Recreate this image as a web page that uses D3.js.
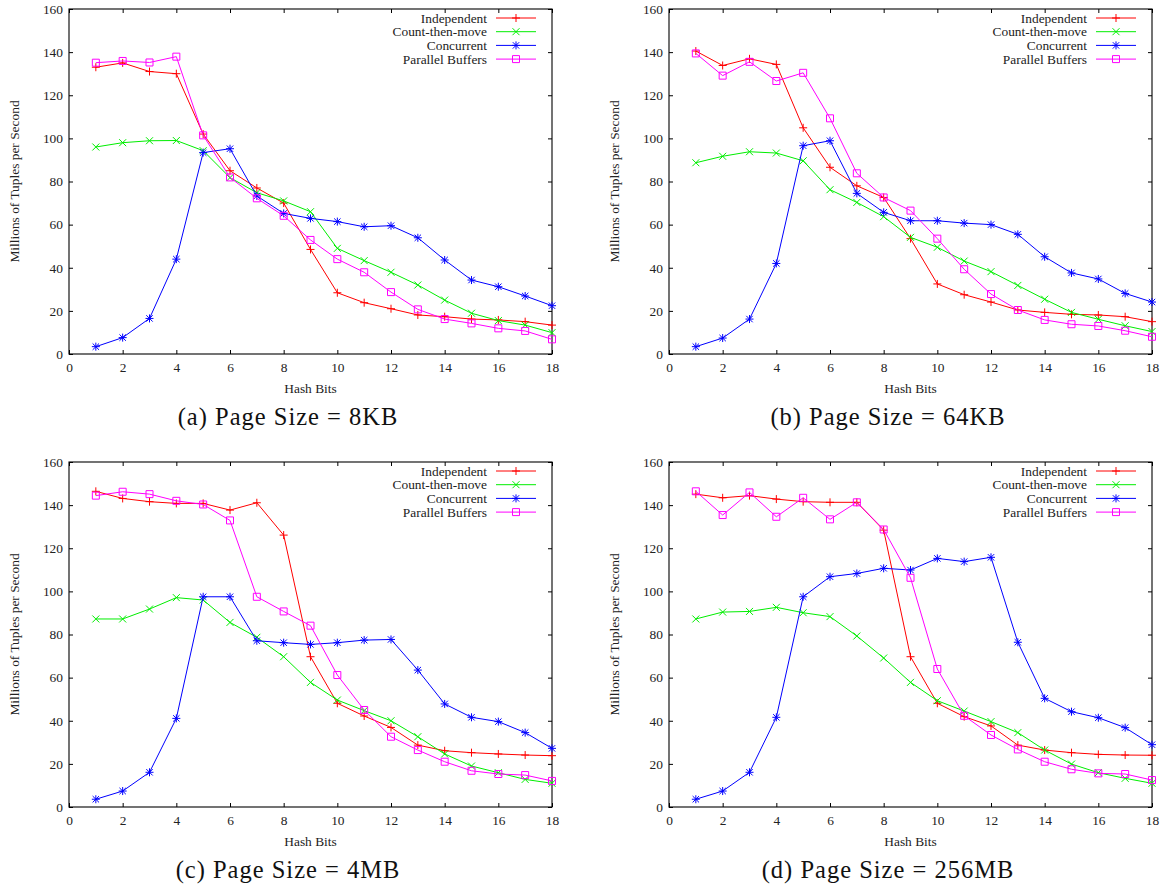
<!DOCTYPE html>
<html>
<head>
<meta charset="utf-8">
<script src="https://d3js.org/d3.v7.min.js"></script>
<style>
  body { margin: 0; background: #fff; }
  svg { display: block; }
  .axis text { font-family: "Liberation Serif", "Times New Roman", serif; font-size: 13.4px; fill: #222; }
  .lab { font-family: "Liberation Serif", "Times New Roman", serif; font-size: 13.4px; fill: #222; }
  .caption { font-family: "Liberation Serif", "Times New Roman", serif; font-size: 24.5px; letter-spacing: 1px; fill: #111; }
</style>
</head>
<body>
<script>
// x values (hash bits) and tick labels
var hashBits = [1, 2, 3, 4, 5, 6, 7, 8, 9, 10, 11, 12, 13, 14, 15, 16, 17, 18];
var xTicks = [0, 2, 4, 6, 8, 10, 12, 14, 16, 18];
var yTicks = [0, 20, 40, 60, 80, 100, 120, 140, 160];

var seriesNames = ['Independent', 'Count-then-move', 'Concurrent', 'Parallel Buffers'];
var seriesColors = ['#ff0000', '#00ee00', '#0000ff', '#ff00ff'];
var captions = ['(a) Page Size = 8KB', '(b) Page Size = 64KB', '(c) Page Size = 4MB', '(d) Page Size = 256MB'];

// (a) 8KB
var independent8KB = [133, 135, 131, 130, 102, 85, 77, 70, 48.5, 28.4, 23.8, 21, 18.1, 17.3, 16.2, 15.8, 15, 13.4];
var countMove8KB   = [96, 98, 98.9, 99, 94.3, 81.8, 74.8, 71, 66, 49, 43.3, 37.9, 32, 25, 18.9, 15.5, 13.4, 9.9];
var concurrent8KB  = [3.4, 7.6, 16.5, 44, 93.4, 95.2, 73.3, 65.2, 62.9, 61.4, 59, 59.5, 53.9, 43.6, 34.3, 31.2, 26.9, 22.4];
var parallel8KB    = [135.1, 135.9, 135.2, 137.9, 101.4, 81.9, 72.2, 64.1, 52.9, 44, 37.9, 28.7, 20.7, 16.2, 14.2, 11.9, 10.7, 6.8];

// (b) 64KB
var independent64KB = [140.5, 133.8, 136.9, 134.3, 104.9, 86.6, 78, 72.6, 53.5, 32.5, 27.5, 24.1, 20.4, 19.3, 18.4, 18.1, 17.3, 15];
var countMove64KB   = [88.7, 91.7, 93.8, 93.2, 89.6, 76.2, 70.3, 63.7, 54.1, 49.5, 43.1, 38.2, 31.8, 25.4, 19.3, 16.1, 13.1, 10.4];
var concurrent64KB  = [3.4, 7.4, 16.2, 42, 96.6, 98.9, 74.5, 65.7, 61.8, 61.8, 60.7, 60, 55.5, 45.1, 37.6, 34.8, 28.1, 24.1];
var parallel64KB    = [139.4, 129.1, 135.5, 126.6, 130.4, 109.3, 83.8, 72.6, 66.5, 53.5, 39.3, 27.8, 20.4, 15.8, 13.8, 13, 10.8, 8];

// (c) 4MB
var independent4MB = [146.4, 143.1, 141.6, 140.8, 140.8, 137.7, 141.1, 126.1, 69.7, 48.1, 42.2, 36.9, 28.7, 26.1, 25.2, 24.6, 24.1, 23.8];
var countMove4MB   = [87.2, 87.2, 91.8, 97.1, 96, 85.6, 78.7, 69.7, 57.8, 49.6, 44.7, 40, 32.6, 24.6, 19, 15.9, 12.8, 11];
var concurrent4MB  = [3.6, 7.4, 16.1, 41.1, 97.5, 97.5, 77.1, 76.2, 75.4, 76.2, 77.4, 77.7, 63.5, 47.8, 41.6, 39.6, 34.5, 27.2];
var parallel4MB    = [144.4, 146.2, 145.1, 142, 140.3, 132.9, 97.5, 90.7, 84.1, 61.2, 45, 32.6, 26.4, 21, 16.8, 15.3, 14.8, 12.1];

// (d) 256MB
var independent256MB = [145.1, 143.4, 144.4, 142.8, 141.6, 141.3, 141.3, 128.4, 69.7, 48.1, 41.9, 37.6, 28.7, 26.4, 25.2, 24.4, 24.1, 24];
var countMove256MB   = [87.2, 90.4, 90.7, 92.6, 90.1, 88.3, 79.3, 69.1, 57.8, 49.3, 44.5, 39.6, 34.5, 26.4, 19.9, 15.9, 13.3, 11];
var concurrent256MB  = [3.6, 7.4, 16.1, 41.6, 97.5, 106.8, 108.3, 110.7, 109.9, 115.3, 113.8, 115.8, 76.4, 50.4, 44.2, 41.4, 36.8, 28.9];
var parallel256MB    = [146.4, 135.4, 145.9, 134.6, 143.4, 133.4, 141.3, 128.7, 106.3, 64, 42.3, 33.4, 26.7, 21, 17.5, 15.6, 15.3, 12.5];

var panels = [
  [independent8KB, countMove8KB, concurrent8KB, parallel8KB],
  [independent64KB, countMove64KB, concurrent64KB, parallel64KB],
  [independent4MB, countMove4MB, concurrent4MB, parallel4MB],
  [independent256MB, countMove256MB, concurrent256MB, parallel256MB]
];

var W = 1167, H = 886,
    plotW = 483, plotH = 345,
    lefts = [69, 669], tops = [9, 462],
    tick = 4;

var svg = d3.select('body').append('svg')
  .attr('width', W)
  .attr('height', H);

var x = d3.scaleLinear().domain([0, 18]).range([0, plotW]);
var y = d3.scaleLinear().domain([0, 160]).range([plotH, 0]);

// gnuplot style point markers
var markers = [
  'M-4,0H4M0,-4V4',                                         // +
  'M-3.5,-3.5L3.5,3.5M-3.5,3.5L3.5,-3.5',                   // x
  'M-4,0H4M0,-4V4M-3.2,-3.2L3.2,3.2M-3.2,3.2L3.2,-3.2',     // *
  'M-3.5,-3.5H3.5V3.5H-3.5Z'                                // open square
];

var line = d3.line()
  .x(function(d, i) { return x(hashBits[i]); })
  .y(function(d) { return y(d); });

panels.forEach(function(series, p) {
  var ox = lefts[p % 2], oy = tops[Math.floor(p / 2)];
  var g = svg.append('g').attr('transform', 'translate(' + ox + ',' + oy + ')');

  //Axes with inward ticks, mirrored on top and right
  g.append('g').attr('class', 'axis')
    .call(d3.axisLeft(y).tickValues(yTicks).tickSizeInner(-tick).tickSizeOuter(0).tickPadding(6));
  g.append('g').attr('class', 'axis')
    .attr('transform', 'translate(0,' + plotH + ')')
    .call(d3.axisBottom(x).tickValues(xTicks).tickSizeInner(-tick).tickSizeOuter(0).tickPadding(8.5));
  g.append('g').attr('class', 'axis')
    .attr('transform', 'translate(' + plotW + ',0)')
    .call(d3.axisRight(y).tickValues(yTicks).tickSizeInner(-tick).tickSizeOuter(0).tickFormat(''));
  g.append('g').attr('class', 'axis')
    .call(d3.axisTop(x).tickValues(xTicks).tickSizeInner(-tick).tickSizeOuter(0).tickFormat(''));
  g.selectAll('.axis .domain').remove();
  g.selectAll('.axis line').attr('stroke', '#000');

  g.append('rect')
    .attr('width', plotW)
    .attr('height', plotH)
    .attr('fill', 'none')
    .attr('stroke', '#000')
    .attr('stroke-width', 1.1);

  //Axis titles
  g.append('text').attr('class', 'lab')
    .attr('transform', 'translate(-50,' + (plotH / 2) + ') rotate(-90)')
    .attr('text-anchor', 'middle')
    .text('Millions of Tuples per Second');
  g.append('text').attr('class', 'lab')
    .attr('x', plotW / 2)
    .attr('y', plotH + 39)
    .attr('text-anchor', 'middle')
    .text('Hash Bits');

  //Lines and markers
  series.forEach(function(vals, s) {
    g.append('path')
      .attr('d', line(vals))
      .attr('fill', 'none')
      .attr('stroke', seriesColors[s])
      .attr('stroke-width', 1);
    g.selectAll('.m' + s).data(vals).enter().append('path')
      .attr('class', 'm' + s)
      .attr('transform', function(d, i) { return 'translate(' + x(hashBits[i]) + ',' + y(d) + ')'; })
      .attr('d', markers[s])
      .attr('fill', 'none')
      .attr('stroke', seriesColors[s])
      .attr('stroke-width', 1);
  });

  //Legend
  seriesNames.forEach(function(name, s) {
    var ly = 9 + s * 13.7;
    g.append('text').attr('class', 'lab')
      .attr('x', plotW - 65)
      .attr('y', ly + 4.5)
      .attr('text-anchor', 'end')
      .text(name);
    g.append('line')
      .attr('x1', plotW - 56).attr('x2', plotW - 16)
      .attr('y1', ly).attr('y2', ly)
      .attr('stroke', seriesColors[s]);
    g.append('path')
      .attr('transform', 'translate(' + (plotW - 36) + ',' + ly + ')')
      .attr('d', markers[s])
      .attr('fill', 'none')
      .attr('stroke', seriesColors[s]);
  });

  //Caption
  g.append('text').attr('class', 'caption')
    .attr('x', 219)
    .attr('y', plotH + 71)
    .attr('text-anchor', 'middle')
    .text(captions[p]);
});
</script>
</body>
</html>
